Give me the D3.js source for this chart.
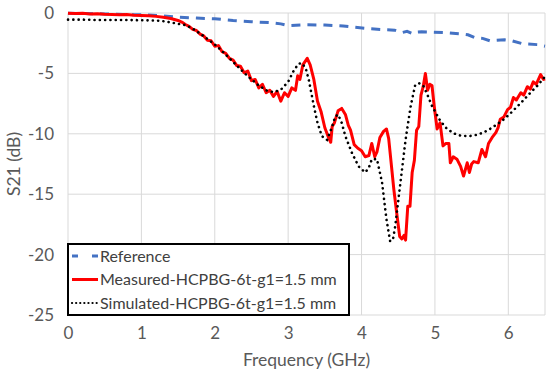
<!DOCTYPE html>
<html>
<head>
    <meta charset="utf-8">
    <title>S21</title>
    <script type="text/javascript" src="https://cdn.jsdelivr.net/npm/d3@7"></script>
    <style type="text/css">
        body { margin: 0; background: #fff; }
        text { font-family: Lato, "Noto Sans", sans-serif; }
        .grid line { stroke: #d9d9d9; stroke-width: 1; }
        .tick text { fill: #595959; font-size: 17px; }
    </style>
</head>
<body>
<script type="text/javascript">

    // frequency (GHz), S21 (dB)
    var refFreq = [0, 0.25, 0.5, 0.75, 1.0, 1.25, 1.5, 1.75, 2.0, 2.25, 2.5, 2.75, 2.9, 3.0, 3.25, 3.5, 3.75, 3.9,
                   4.1, 4.3, 4.45, 4.55, 4.62, 4.7, 4.76, 4.82, 4.95, 5.15, 5.35, 5.45, 5.55, 5.65, 5.75, 5.95, 6.05, 6.2, 6.4, 6.5];
    var refS21  = [-0.02, -0.05, -0.08, -0.12, -0.15, -0.22, -0.35, -0.42, -0.48, -0.62, -0.72, -0.8, -0.9, -1.05, -0.98, -1.0, -1.08, -1.18,
                   -1.3, -1.38, -1.42, -1.62, -1.52, -1.72, -1.58, -1.55, -1.58, -1.62, -1.72, -1.8, -2.05, -2.1, -2.3, -2.22, -2.3, -2.55, -2.62, -2.75];

    var measFreq = [0, 0.1, 0.2, 0.3, 0.4, 0.5, 0.6, 0.7, 0.8, 0.9, 1.0, 1.1, 1.2, 1.3, 1.4, 1.5, 1.55, 1.6, 1.65, 1.7,
                    1.75, 1.8, 1.85, 1.9, 1.95, 2.0, 2.05, 2.1, 2.15, 2.2, 2.25, 2.3, 2.35, 2.4, 2.45, 2.5, 2.55, 2.6, 2.65, 2.7,
                    2.75, 2.8, 2.85, 2.9, 2.95, 3.0, 3.05, 3.1, 3.13, 3.16, 3.2, 3.26, 3.3, 3.35, 3.4, 3.45, 3.5, 3.55, 3.58, 3.6,
                    3.63, 3.68, 3.73, 3.78, 3.82, 3.85, 3.9, 3.95, 4.0, 4.05, 4.1, 4.14, 4.18, 4.21, 4.25, 4.3, 4.34, 4.37, 4.4, 4.44,
                    4.48, 4.52, 4.55, 4.58, 4.6, 4.63, 4.66, 4.69, 4.72, 4.75, 4.78, 4.81, 4.84, 4.87, 4.9, 4.93, 4.96, 4.99, 5.03, 5.07,
                    5.11, 5.15, 5.19, 5.21, 5.25, 5.3, 5.35, 5.39, 5.44, 5.47, 5.5, 5.53, 5.59, 5.64, 5.69, 5.73, 5.78, 5.83, 5.86, 5.89,
                    5.94, 5.99, 6.03, 6.07, 6.11, 6.17, 6.21, 6.26, 6.3, 6.34, 6.38, 6.44, 6.48, 6.5];
    var measS21  = [-0.02, -0.05, -0.03, -0.08, -0.06, -0.1, -0.12, -0.15, -0.13, -0.18, -0.2, -0.22, -0.28, -0.35, -0.45, -0.62, -0.75, -0.95, -1.1, -1.35,
                    -1.45, -1.75, -1.9, -2.25, -2.3, -2.75, -2.7, -3.2, -3.35, -3.75, -3.9, -4.35, -4.4, -4.95, -4.8, -5.6, -5.5, -6.2, -5.9, -6.6,
                    -6.4, -6.9, -6.5, -7.3, -6.6, -6.9, -6.2, -6.4, -5.2, -5.5, -4.3, -3.75, -4.3, -5.5, -7.3, -8.2, -9.5, -10.3, -10.7, -9.4,
                    -9.1, -8.1, -7.9, -8.4, -9.3, -9.7, -10.9, -11.2, -11.4, -11.9, -11.8, -10.8, -11.9, -11.5, -10.3, -9.8, -9.6, -10.4, -12.2, -14.6,
                    -16.6, -18.5, -18.7, -18.4, -18.8, -16.0, -16.0, -13.2, -12.2, -9.7, -9.4, -6.8, -6.1, -5.0, -6.4, -5.9, -6.0, -7.7, -9.6, -9.1,
                    -11.0, -10.8, -10.8, -12.4, -11.9, -12.1, -12.7, -13.5, -12.4, -13.2, -12.5, -12.3, -12.4, -11.3, -11.9, -10.8, -10.3, -9.9, -9.5, -8.8,
                    -8.6, -8.0, -7.8, -7.0, -7.2, -6.6, -6.8, -6.1, -6.3, -5.7, -5.9, -5.1, -5.5, -5.45];

    var simFreq = [0, 0.2, 0.4, 0.6, 0.8, 1.0, 1.2, 1.3, 1.4, 1.5, 1.6, 1.7, 1.8, 1.9, 2.0, 2.1, 2.2, 2.3, 2.4, 2.5,
                   2.6, 2.7, 2.8, 2.9, 3.0, 3.07, 3.14, 3.19, 3.24, 3.28, 3.35, 3.4, 3.46, 3.53, 3.6, 3.64, 3.68, 3.73, 3.78, 3.87,
                   3.96, 4.05, 4.1, 4.14, 4.21, 4.28, 4.34, 4.39, 4.43, 4.46, 4.53, 4.6, 4.67, 4.73, 4.78, 4.84, 4.9, 4.96, 5.07, 5.15,
                   5.25, 5.35, 5.46, 5.56, 5.66, 5.75, 5.85, 5.94, 6.03, 6.12, 6.21, 6.3, 6.4, 6.48, 6.5];
    var simS21  = [-0.55, -0.55, -0.58, -0.58, -0.58, -0.6, -0.62, -0.68, -0.78, -0.9, -1.0, -1.3, -1.7, -2.15, -2.6, -3.15, -3.75, -4.35, -4.95, -5.5,
                   -6.0, -6.4, -6.55, -6.35, -5.7, -4.84, -4.2, -4.15, -4.6, -5.5, -7.7, -9.1, -10.2, -10.5, -9.4, -8.6, -8.4, -9.1, -10.2, -11.6,
                   -12.7, -13.2, -12.8, -12.1, -12.1, -14.05, -17.1, -18.9, -18.7, -17.6, -14.05, -10.5, -7.7, -6.0, -5.8, -6.0, -6.8, -7.7, -8.9, -9.5,
                   -9.95, -10.15, -10.2, -10.1, -9.9, -9.6, -9.2, -8.8, -8.3, -7.75, -7.2, -6.6, -6.0, -5.4, -5.3];

    var xTicks = [0, 1, 2, 3, 4, 5, 6];
    var yTicks = [0, -5, -10, -15, -20, -25];
    var seriesNames = ["Reference", "Measured-HCPBG-6t-g1=1.5 mm", "Simulated-HCPBG-6t-g1=1.5 mm"];

    var W = 550, H = 376;
    var margin = {top: 13, right: 5, bottom: 61, left: 68};
    var width = W - margin.left - margin.right,
        height = H - margin.top - margin.bottom;

    var svg = d3.select("body").append("svg")
        .attr("width", W)
        .attr("height", H);

    var g = svg.append("g")
        .attr("transform", "translate(" + margin.left + "," + margin.top + ")");

    var x = d3.scaleLinear().domain([0, 6.5]).range([0, width]);
    var y = d3.scaleLinear().domain([-25, 0]).range([height, 0]);

    // grid
    g.append("g").attr("class", "grid")
        .selectAll("line.h").data(yTicks).enter().append("line")
        .attr("x1", 0).attr("x2", width)
        .attr("y1", function(d) { return y(d); }).attr("y2", function(d) { return y(d); });
    g.append("g").attr("class", "grid")
        .selectAll("line.v").data(xTicks.concat([6.5])).enter().append("line")
        .attr("y1", 0).attr("y2", height)
        .attr("x1", function(d) { return x(d); }).attr("x2", function(d) { return x(d); });

    var xAxis = g.append("g")
        .attr("transform", "translate(0," + height + ")")
        .call(d3.axisBottom(x).tickValues(xTicks).tickSize(0).tickPadding(12).tickFormat(d3.format("d")));
    xAxis.select(".domain").remove();

    var yAxis = g.append("g")
        .call(d3.axisLeft(y).tickValues(yTicks).tickSize(0).tickPadding(14).tickFormat(function(d) { return d == 0 ? "0" : "-" + Math.abs(d); }));
    yAxis.select(".domain").remove();

    svg.append("text")
        .attr("text-anchor", "middle")
        .attr("transform", "translate(" + (margin.left + width / 2) + "," + (H - 10) + ")")
        .style("font-size", "17.5px").style("fill", "#595959")
        .text("Frequency (GHz)");

    svg.append("text")
        .attr("text-anchor", "middle")
        .attr("transform", "translate(20," + (margin.top + height / 2) + ")rotate(-90)")
        .style("font-size", "17.5px").style("fill", "#595959")
        .text("S21 (dB)");

    function pts(fs, vs) { return fs.map(function(f, i) { return [f, vs[i]]; }); }

    var line = d3.line().x(function(d) { return x(d[0]); }).y(function(d) { return y(d[1]); });

    var plot = g.append("g");

    plot.append("path").datum(pts(refFreq, refS21))
        .attr("d", line).attr("fill", "none")
        .attr("stroke", "#4472c4").attr("stroke-width", 3)
        .attr("stroke-dasharray", "9,7");

    plot.append("path").datum(pts(measFreq, measS21))
        .attr("d", line).attr("fill", "none")
        .attr("stroke", "#ff0000").attr("stroke-width", 3)
        .attr("stroke-linejoin", "round");

    plot.append("path").datum(pts(simFreq, simS21))
        .attr("d", line).attr("fill", "none")
        .attr("stroke", "#000").attr("stroke-width", 2.6)
        .attr("stroke-linecap", "round")
        .attr("stroke-dasharray", "0.1,5.2");

    // legend
    var lg = svg.append("g").attr("transform", "translate(68,244)");
    lg.append("rect")
        .attr("x", 0).attr("y", 0).attr("width", 281).attr("height", 71)
        .attr("fill", "#fff").attr("stroke", "#000").attr("stroke-width", 2);

    var styles = [
        {stroke: "#4472c4", w: 3, dash: "6,14", cap: "butt"},
        {stroke: "#ff0000", w: 3, dash: null, cap: "butt"},
        {stroke: "#000", w: 2.2, dash: "0.1,4", cap: "round"}
    ];

    seriesNames.forEach(function(name, i) {
        var cy = 12 + i * 23.5;
        var l = lg.append("line")
            .attr("x1", 4).attr("x2", 30).attr("y1", cy).attr("y2", cy)
            .attr("stroke", styles[i].stroke).attr("stroke-width", styles[i].w)
            .attr("stroke-linecap", styles[i].cap);
        if (styles[i].dash) l.attr("stroke-dasharray", styles[i].dash);
        lg.append("text")
            .attr("x", 32).attr("y", cy).attr("dy", "0.35em")
            .style("font-size", "16px").style("fill", "#404040")
            .text(name);
    });

</script>
</body>
</html>
